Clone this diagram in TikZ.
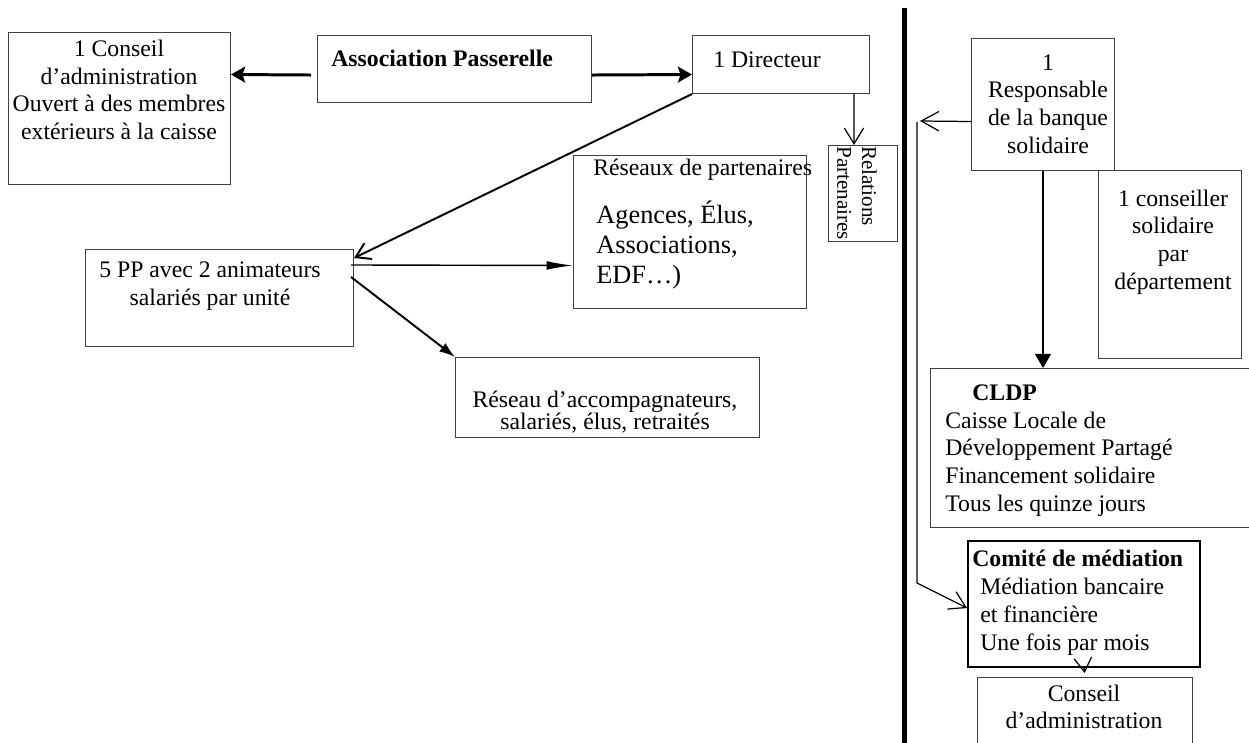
\documentclass[tikz,border=0pt]{standalone}
\usepackage{fontspec}
\setmainfont{Liberation Serif}
\usetikzlibrary{arrows.meta, calc}

\begin{document}
\begin{tikzpicture}[x=0.02cm, y=-0.02cm]


\tikzset{boite/.style={draw=black!75, line width=0.6pt, shape=rectangle, anchor=north west, inner sep=0}}
\tikzset{texte/.style={font=\fontsize{13.5}{15.8}\selectfont, inner sep=0, align=center}}
\tikzset{gauche/.style={texte, align=left, anchor=west}}
\tikzset{gras/.style={texte, anchor=west, font=\bfseries\fontsize{13.5}{15.8}\selectfont}}
\tikzset{gros/.style={-{Stealth[length=8pt, width=9pt, inset=1.5pt]}, line width=1.7pt}}
\tikzset{pleine/.style={-{Latex[length=9pt, width=6pt]}, line width=1.1pt}}
\tikzset{ouverte/.style={-{Straight Barb[length=9pt, width=11pt]}, line width=0.7pt}}
\useasboundingbox (0,0) rectangle (1249,743);
\node[boite, minimum width=4.44cm, minimum height=3.04cm] (ca) at (8,32) {};
\node[boite, minimum width=5.48cm, minimum height=1.34cm] (ap) at (317,35) {};
\node[boite, minimum width=3.54cm, minimum height=1.16cm] (dir) at (692,35) {};
\node[boite, minimum width=1.38cm, minimum height=1.92cm] (rel) at (828,145) {};
\node[boite, minimum width=4.66cm, minimum height=3.06cm] (res) at (573,155) {};
\node[boite, minimum width=5.36cm, minimum height=1.94cm] (pp) at (85,249) {};
\node[boite, minimum width=6.08cm, minimum height=1.60cm] (acc) at (455,357) {};
\node[boite, minimum width=2.86cm, minimum height=2.64cm] (resp) at (971,38) {};
\node[boite, minimum width=2.86cm, minimum height=3.76cm] (cons) at (1098,170) {};
\node[boite, minimum width=6.60cm, minimum height=3.18cm] (cldp) at (930,368) {};
\node[boite, draw=black, line width=1.2pt, minimum width=4.64cm, minimum height=2.52cm] (com) at (967,540) {};
\node[boite, minimum width=4.30cm, minimum height=1.60cm] (ca2) at (977,677) {};
\node[texte] (ca-t) at (119,90) {1 Conseil\\d’administration\\Ouvert à des membres\\extérieurs à la caisse};
\node[gras] (ap-t) at (331,58) {Association Passerelle};
\node[texte] (dir-t) at (767,60) {1 Directeur};
\node[texte, font=\fontsize{12}{14}\selectfont, align=left, rotate=-90, anchor=west] (rel-t) at (857,146) {Relations\\Partenaires};
\node[gauche] (res-t) at (593,170) {Réseaux de partenaires};
\node[gauche, font=\fontsize{15}{16.8}\selectfont] (res-l) at (596,245) {Agences, Élus,\\Associations,\\EDF…)};
\node[texte] (pp-t) at (210,286) {5 PP avec 2 animateurs\\salariés par unité};
\node[texte, font=\fontsize{13.5}{12.5}\selectfont] (acc-t) at (605,412) {Réseau d’accompagnateurs,\\salariés, élus, retraités};
\node[texte] (resp-t) at (1048,104) {1\\Responsable\\de la banque\\solidaire};
\node[texte] (cons-t) at (1173,242) {1 conseiller\\solidaire\\par\\département};
\node[gras] (cldp-h) at (972,393) {CLDP};
\node[gauche] (cldp-t) at (945,464) {Caisse Locale de\\Développement Partagé\\Financement solidaire\\Tous les quinze jours};
\node[gras] (com-h) at (972,558) {Comité de médiation};
\node[gauche] (com-t) at (980,617) {Médiation bancaire\\et financière\\Une fois par mois};
\node[texte] (ca2-t) at (1084,707) {Conseil\\d’administration};
\coordinate (g1) at (920,121);
\coordinate (g2) at (917,122);
\coordinate (g3) at (917,583);
\coordinate (sep1) at (904.5,8);
\coordinate (sep2) at (904.5,743);
\draw[gros] ($(ap.west)+(-6,6)$) -- ($(ca.east)+(0,-34)$);
\draw[gros] ($(ap.east)+(0,6)$) -- ($(dir.west)+(0,10)$);
\draw[ouverte, line width=1.1pt, -{Straight Barb[length=8pt, width=10pt]}] (dir.south west) -- ($(pp.north east)+(0,9)$);
\draw[ouverte] ($(dir.south east)+(-16,0)$) -- ($(rel.north)+(-9,0)$);
\draw[pleine, -{Latex[length=15pt, width=5pt]}, line width=0.8pt] ($(pp.north east)+(-3,16)$) -- ($(res.west)+(0,33.5)$);
\draw[pleine] ($(pp.north east)+(-3,28)$) -- (acc.north west);
\draw[pleine, -{Triangle[length=8pt, width=9pt]}] (resp.south) -- (resp.south |- cldp.north);
\draw[ouverte, -{Straight Barb[length=10pt, width=11pt]}] ($(resp.west)+(0,17)$) -- (g1);
\draw[ouverte] (g2) -- (g3) -- ($(com.west)+(0,4)$);
\draw[ouverte, -{Straight Barb[length=8pt, width=10pt]}, shorten >=0.08cm] (com.south) -- (ca2.north);
\draw[line width=2.8pt] (sep1) -- (sep2);

\end{tikzpicture}
\end{document}
